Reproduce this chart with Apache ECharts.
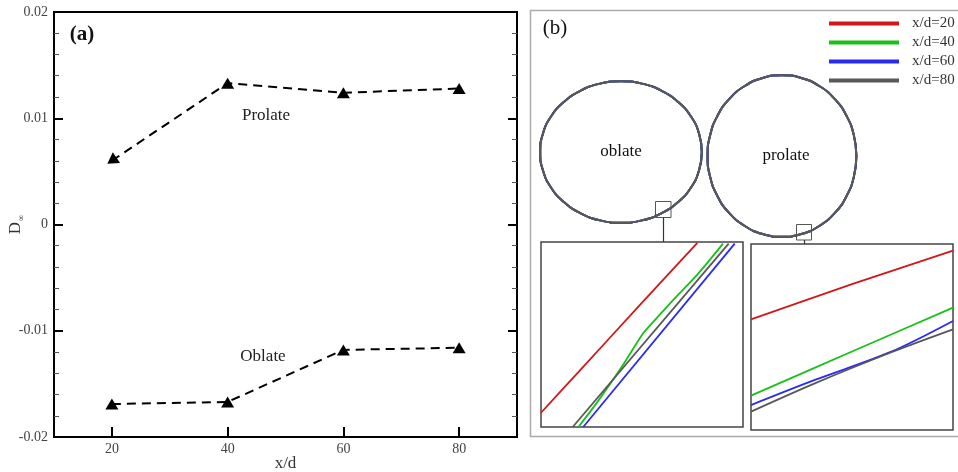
<!DOCTYPE html>
<html>
<head>
<meta charset="utf-8">
<script src="https://cdn.jsdelivr.net/npm/echarts@6/dist/echarts.min.js"></script>
<style>
  html, body { margin: 0; padding: 0; background: #fff; }
  #chart { width: 958px; height: 472px; }
</style>
</head>
<body>
<div id="chart"></div>
<script>
// ---- (a) deformation parameter along the jet ----
const stations = [20, 40, 60, 80];
const prolateD = [0.0060, 0.0133, 0.0124, 0.0128];
const oblateD = [-0.0169, -0.0167, -0.0118, -0.0116];
const xTickValues = [20, 40, 60, 80];
const yTickValues = [-0.02, -0.01, 0, 0.01, 0.02];
const yTickText = ['-0.02', '-0.01', '0', '0.01', '0.02'];

// ---- (b) cross-section contours ----
const contourNames = ['x/d=20', 'x/d=40', 'x/d=60', 'x/d=80'];
const oblateContour = [[1.01,0],[0.976,0.229],[0.875,0.443],[0.714,0.626],[0.505,0.766],[0.261,0.855],[0,0.885],[-0.261,0.855],[-0.505,0.766],[-0.714,0.626],[-0.875,0.443],[-0.976,0.229],[-1.01,0],[-0.976,-0.229],[-0.875,-0.443],[-0.714,-0.626],[-0.505,-0.766],[-0.261,-0.855],[0,-0.885],[0.261,-0.855],[0.505,-0.766],[0.714,-0.626],[0.875,-0.443],[0.976,-0.229],[1.01,0]];
const prolateContour = [[0.93,0],[0.898,0.261],[0.805,0.505],[0.658,0.714],[0.465,0.875],[0.241,0.976],[0,1.01],[-0.241,0.976],[-0.465,0.875],[-0.658,0.714],[-0.805,0.505],[-0.898,0.261],[-0.93,0],[-0.898,-0.261],[-0.805,-0.505],[-0.658,-0.714],[-0.465,-0.875],[-0.241,-0.976],[0,-1.01],[0.241,-0.976],[0.465,-0.875],[0.658,-0.714],[0.805,-0.505],[0.898,-0.261],[0.93,0]];

// magnified windows (window-relative 0..100 units)
const oblateZoom20 = [[0,7.7],[18.5,29.7],[48.1,64.9],[77.4,99.5]];
const oblateZoom40 = [[18.5,0],[28.5,14.4],[39.9,32.4],[49.8,49.5],[53,53.7],[64.6,67.6],[77.8,82.9],[90.1,99.1]];
const oblateZoom60 = [[20.9,0],[95.9,99.1]];
const oblateZoom80 = [[15.7,0],[92.9,99.1]];
const prolateZoom20 = [[0,59.5],[50,78.4],[100,96.4]];
const prolateZoom40 = [[0,18.5],[50,42.2],[100,65.8]];
const prolateZoom60 = [[0,13.4],[31.6,26.9],[69.5,42.1],[100,58.6]];
const prolateZoom80 = [[0,9.9],[31.6,25.1],[69.5,41.8],[100,54.1]];

const oblateZooms = [oblateZoom20, oblateZoom40, oblateZoom60, oblateZoom80];
const prolateZooms = [prolateZoom20, prolateZoom40, prolateZoom60, prolateZoom80];
const contourColors = ['#d01818', '#18c018', '#2a2af0', '#585858'];

const SERIF = '"Liberation Serif", "Times New Roman", serif';

function tickLabel(v) {
  for (let i = 0; i < yTickValues.length; i++) {
    if (Math.abs(v - yTickValues[i]) < 1e-9) return yTickText[i];
  }
  return '';
}

const chart = echarts.init(document.getElementById('chart'), null, { renderer: 'canvas' });

const hiddenAxis = (gridIndex, min, max) => ({
  type: 'value', gridIndex, min, max, show: false, splitLine: { show: false }
});

const series = [
  {
    name: 'Prolate', type: 'line', xAxisIndex: 0, yAxisIndex: 0,
    data: stations.map((x, i) => i === 0 ? { value: [x, prolateD[i]], symbolRotate: 124 } : [x, prolateD[i]]),
    symbol: 'triangle', symbolSize: [13, 11], showSymbol: true,
    itemStyle: { color: '#000' },
    lineStyle: { color: '#000', width: 2, type: [9, 6] },
    z: 5
  },
  {
    name: 'Oblate', type: 'line', xAxisIndex: 0, yAxisIndex: 0,
    data: stations.map((x, i) => [x, oblateD[i]]),
    symbol: 'triangle', symbolSize: [13, 11],
    itemStyle: { color: '#000' },
    lineStyle: { color: '#000', width: 2, type: [9, 6] },
    z: 5
  }
];

contourNames.forEach((name, k) => {
  const c = contourColors[k];
  const common = { name, type: 'line', symbol: 'none', color: c, silent: true };
  series.push(Object.assign({}, common, {
    xAxisIndex: 1, yAxisIndex: 2, data: oblateContour, smooth: 0.5,
    lineStyle: { color: c, width: 2 }
  }));
  series.push(Object.assign({}, common, {
    xAxisIndex: 2, yAxisIndex: 3, data: prolateContour, smooth: 0.5,
    lineStyle: { color: c, width: 2 }
  }));
  series.push(Object.assign({}, common, {
    xAxisIndex: 3, yAxisIndex: 4, data: oblateZooms[k], smooth: 0.3,
    lineStyle: { color: c, width: 1.8 }
  }));
  series.push(Object.assign({}, common, {
    xAxisIndex: 4, yAxisIndex: 5, data: prolateZooms[k], smooth: 0.3,
    lineStyle: { color: c, width: 1.8 }
  }));
});

const gridBase = { outerBoundsMode: 'none', containLabel: false };

const option = {
  animation: false,
  backgroundColor: '#fff',
  textStyle: { fontFamily: SERIF },
  grid: [
    Object.assign({ left: 54, top: 12, width: 463, height: 425, show: true, borderColor: '#000', borderWidth: 2, backgroundColor: 'transparent' }, gridBase),
    Object.assign({ left: 525, top: 56, width: 192, height: 192 }, gridBase),
    Object.assign({ left: 686, top: 60, width: 192, height: 192 }, gridBase),
    Object.assign({ left: 541, top: 242, width: 202, height: 185, show: true, borderColor: '#444', borderWidth: 1.5 }, gridBase),
    Object.assign({ left: 751, top: 244, width: 202, height: 186, show: true, borderColor: '#444', borderWidth: 1.5 }, gridBase)
  ],
  xAxis: [
    {
      type: 'value', gridIndex: 0, min: 10, max: 90, interval: 10, position: 'bottom',
      name: 'x/d', nameLocation: 'middle', nameGap: 18, nameMoveOverlap: false,
      nameTextStyle: { fontFamily: SERIF, fontSize: 17, color: '#333' },
      axisLine: { show: false, onZero: false },
      axisTick: { show: true, inside: true, length: 10, customValues: xTickValues, lineStyle: { color: '#000', width: 2 } },
      axisLabel: { customValues: xTickValues, margin: 5, fontFamily: SERIF, fontSize: 14, color: '#444' },
      splitLine: { show: false }
    },
    hiddenAxis(1, -1.2, 1.2),
    hiddenAxis(2, -1.2, 1.2),
    hiddenAxis(3, 0, 100),
    hiddenAxis(4, 0, 100)
  ],
  yAxis: [
    {
      type: 'value', gridIndex: 0, min: -0.02, max: 0.02, interval: 0.01, position: 'left',
      name: '{d|D}{s|∞}', nameLocation: 'middle', nameGap: 28, nameRotate: 90, nameMoveOverlap: false,
      nameTextStyle: {
        fontFamily: SERIF, fontSize: 17, color: '#333', lineHeight: 20,
        rich: {
          d: { fontFamily: SERIF, fontSize: 17, color: '#333', lineHeight: 20, verticalAlign: 'middle' },
          s: { fontFamily: SERIF, fontSize: 9, color: '#333', lineHeight: 20, verticalAlign: 'bottom', padding: [0, 0, 0, 1] }
        }
      },
      axisLine: { show: false, onZero: false },
      axisTick: { show: true, inside: true, length: 9, lineStyle: { color: '#000', width: 2 } },
      minorTick: { show: true, splitNumber: 5, length: 5, lineStyle: { color: '#555', width: 1 } },
      axisLabel: { margin: 6, fontFamily: SERIF, fontSize: 14, color: '#444', formatter: tickLabel },
      splitLine: { show: false }, minorSplitLine: { show: false }
    },
    {
      type: 'value', gridIndex: 0, min: -0.02, max: 0.02, interval: 0.01, position: 'right',
      axisLine: { show: false, onZero: false },
      axisTick: { show: true, inside: true, length: 9, lineStyle: { color: '#000', width: 2 } },
      minorTick: { show: true, splitNumber: 5, length: 5, lineStyle: { color: '#555', width: 1 } },
      axisLabel: { show: false },
      splitLine: { show: false }, minorSplitLine: { show: false }
    },
    hiddenAxis(1, -1.2, 1.2),
    hiddenAxis(2, -1.2, 1.2),
    hiddenAxis(3, 0, 100),
    hiddenAxis(4, 0, 100)
  ],
  legend: {
    data: contourNames,
    orient: 'vertical', left: 829, top: 16, padding: 0,
    itemWidth: 70, itemHeight: 4, itemGap: 4, icon: 'rect',
    selectedMode: false,
    textStyle: { fontFamily: SERIF, fontSize: 15, color: '#333', lineHeight: 15, padding: [0, 0, 0, 8] }
  },
  graphic: [
    // panel (b) frame
    { type: 'rect', shape: { x: 530.5, y: 10.5, width: 432, height: 426 }, style: { fill: 'none', stroke: '#aaa', lineWidth: 1.5 }, z: 0, silent: true },
    // magnified-region markers and their leaders
    { type: 'rect', shape: { x: 655.5, y: 201.5, width: 15.5, height: 16 }, style: { fill: 'none', stroke: '#555', lineWidth: 1 }, z: 10, silent: true },
    { type: 'line', shape: { x1: 663.5, y1: 217.5, x2: 663.5, y2: 242 }, style: { stroke: '#333', lineWidth: 1.2 }, z: 10, silent: true },
    { type: 'rect', shape: { x: 796.5, y: 224.5, width: 15, height: 15.5 }, style: { fill: 'none', stroke: '#555', lineWidth: 1 }, z: 10, silent: true },
    { type: 'line', shape: { x1: 804.5, y1: 240, x2: 804.5, y2: 244 }, style: { stroke: '#333', lineWidth: 1.2 }, z: 10, silent: true },
    // annotations
    { type: 'text', x: 82, y: 35, style: { text: '(a)', font: 'bold 21px ' + SERIF, fill: '#111', align: 'center', verticalAlign: 'middle' }, z: 10 },
    { type: 'text', x: 266, y: 116, style: { text: 'Prolate', font: '17px ' + SERIF, fill: '#222', align: 'center', verticalAlign: 'middle' }, z: 10 },
    { type: 'text', x: 263, y: 357, style: { text: 'Oblate', font: '17px ' + SERIF, fill: '#222', align: 'center', verticalAlign: 'middle' }, z: 10 },
    { type: 'text', x: 555, y: 28, style: { text: '(b)', font: '21px ' + SERIF, fill: '#111', align: 'center', verticalAlign: 'middle' }, z: 10 },
    { type: 'text', x: 621, y: 152, style: { text: 'oblate', font: '17px ' + SERIF, fill: '#111', align: 'center', verticalAlign: 'middle' }, z: 10 },
    { type: 'text', x: 786, y: 156, style: { text: 'prolate', font: '17px ' + SERIF, fill: '#111', align: 'center', verticalAlign: 'middle' }, z: 10 }
  ],
  series
};

chart.setOption(option);
</script>
</body>
</html>
